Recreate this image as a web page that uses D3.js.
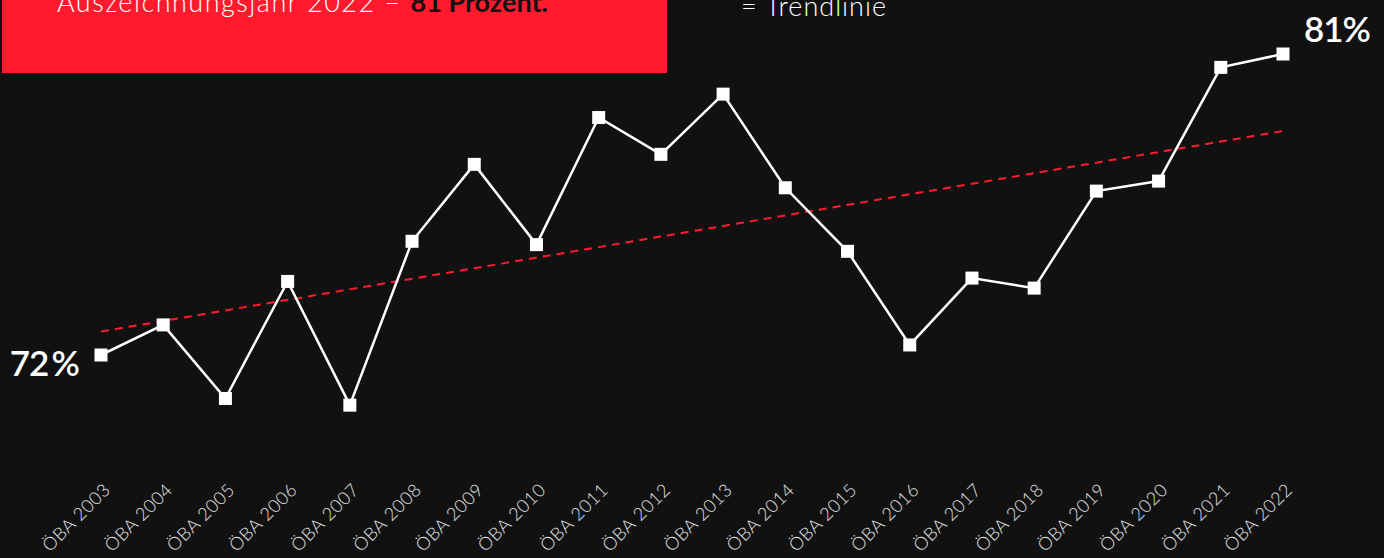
<!DOCTYPE html>
<html lang="de">
<head>
<meta charset="utf-8">
<title>ÖBA Trend 2003–2022</title>
<script src="https://cdn.jsdelivr.net/npm/d3@7/dist/d3.min.js"></script>
<style>
  html, body { margin: 0; padding: 0; background: #111111; }
  svg { display: block; }
</style>
</head>
<body>
<svg id="chart" width="1384" height="558"></svg>
<script>
// Share per award year, in percent
const years = ["ÖBA 2003","ÖBA 2004","ÖBA 2005","ÖBA 2006","ÖBA 2007","ÖBA 2008","ÖBA 2009",
  "ÖBA 2010","ÖBA 2011","ÖBA 2012","ÖBA 2013","ÖBA 2014","ÖBA 2015","ÖBA 2016","ÖBA 2017",
  "ÖBA 2018","ÖBA 2019","ÖBA 2020","ÖBA 2021","ÖBA 2022"];
const values = [72.0, 72.9, 70.7, 74.2, 70.5, 75.4, 77.7, 75.3, 79.1, 78.0,
  79.8, 77.0, 75.1, 72.3, 74.3, 74.0, 76.9, 77.2, 80.6, 81.0];
const headline = ["Auszeichnungsjahr 2022 – ", "81 Prozent."];
const legendText = "= Trendlinie";
const firstLabel = "72\u2009%";
const lastLabel = "81%";

const W = 1384, H = 558;
const svg = d3.select("#chart");
const data = years.map((y, i) => ({ year: y, i, v: values[i] }));

const x = d3.scalePoint().domain(years).range([101, 1283]);
const y = d3.scaleLinear().domain([72, 81]).range([355, 54]);

svg.append("rect").attr("width", W).attr("height", H).attr("fill", "#111111");

// Least-squares trend over the series
const n = values.length;
const mi = d3.mean(data, d => d.i), mv = d3.mean(values);
const slope = d3.sum(data, d => (d.i - mi) * (d.v - mv)) / d3.sum(data, d => (d.i - mi) ** 2);
const trend = data.map(d => ({ year: d.year, v: mv + slope * (d.i - mi) }));

svg.append("line")
  .attr("x1", x(trend[0].year)).attr("y1", y(trend[0].v))
  .attr("x2", x(trend[n - 1].year)).attr("y2", y(trend[n - 1].v))
  .attr("stroke", "#ff1a2e").attr("stroke-width", 2)
  .attr("stroke-dasharray", "8,6");

// Data line
svg.append("path")
  .datum(data)
  .attr("fill", "none")
  .attr("stroke", "#ffffff")
  .attr("stroke-width", 2.5)
  .attr("d", d3.line().x(d => x(d.year)).y(d => y(d.v)));

// Square markers
const s = 13;
svg.selectAll("rect.pt").data(data).join("rect")
  .attr("class", "pt")
  .attr("x", d => x(d.year) - s / 2)
  .attr("y", d => y(d.v) - s / 2)
  .attr("width", s).attr("height", s)
  .attr("fill", "#ffffff");

// Rotated category axis
const axis = d3.axisBottom(x).tickSize(0).tickPadding(0);
const gx = svg.append("g").attr("transform", "translate(0,491)").call(axis);
gx.select(".domain").remove();
gx.selectAll("text")
  .attr("fill", "#e6e6e6")
  .style("font-family", "Lato, sans-serif")
  .style("font-weight", 300)
  .style("font-size", "18px")
  .style("letter-spacing", "0.5px")
  .attr("text-anchor", "end")
  .attr("dy", 0)
  .attr("transform", "translate(10,0) rotate(-45)");

// End value labels
const big = { "font-family": "Lato, sans-serif", "font-weight": 600, "font-size": "35px", "letter-spacing": "-1px" };
const t1 = svg.append("text")
  .attr("x", x(years[0]) - 22).attr("y", y(values[0]) + 21)
  .attr("text-anchor", "end").attr("fill", "#ffffff").text(firstLabel);
const t2 = svg.append("text")
  .attr("x", x(years[n - 1]) + 21).attr("y", y(values[n - 1]) - 12)
  .attr("text-anchor", "start").attr("fill", "#ffffff").text(lastLabel);
[t1, t2].forEach(t => Object.entries(big).forEach(([k, v]) => t.style(k, v)));

// Header box
svg.append("rect").attr("x", 2).attr("y", 0).attr("width", 665).attr("height", 73)
  .attr("fill", "#ff1a2e");
const ht = svg.append("text").attr("x", 57).attr("y", 12)
  .style("font-family", "Lato, sans-serif").style("font-size", "27px");
ht.append("tspan").attr("fill", "#ffffff").style("font-weight", 300)
  .style("letter-spacing", "1.5px").text(headline[0]);
ht.append("tspan").attr("fill", "#111111").style("font-weight", 700).text(headline[1]);

// Legend
svg.append("text").attr("x", 741).attr("y", 16)
  .attr("fill", "#ffffff")
  .style("font-family", "Lato, sans-serif").style("font-weight", 300).style("font-size", "27px")
  .style("letter-spacing", "1px")
  .text(legendText);
</script>
</body>
</html>
